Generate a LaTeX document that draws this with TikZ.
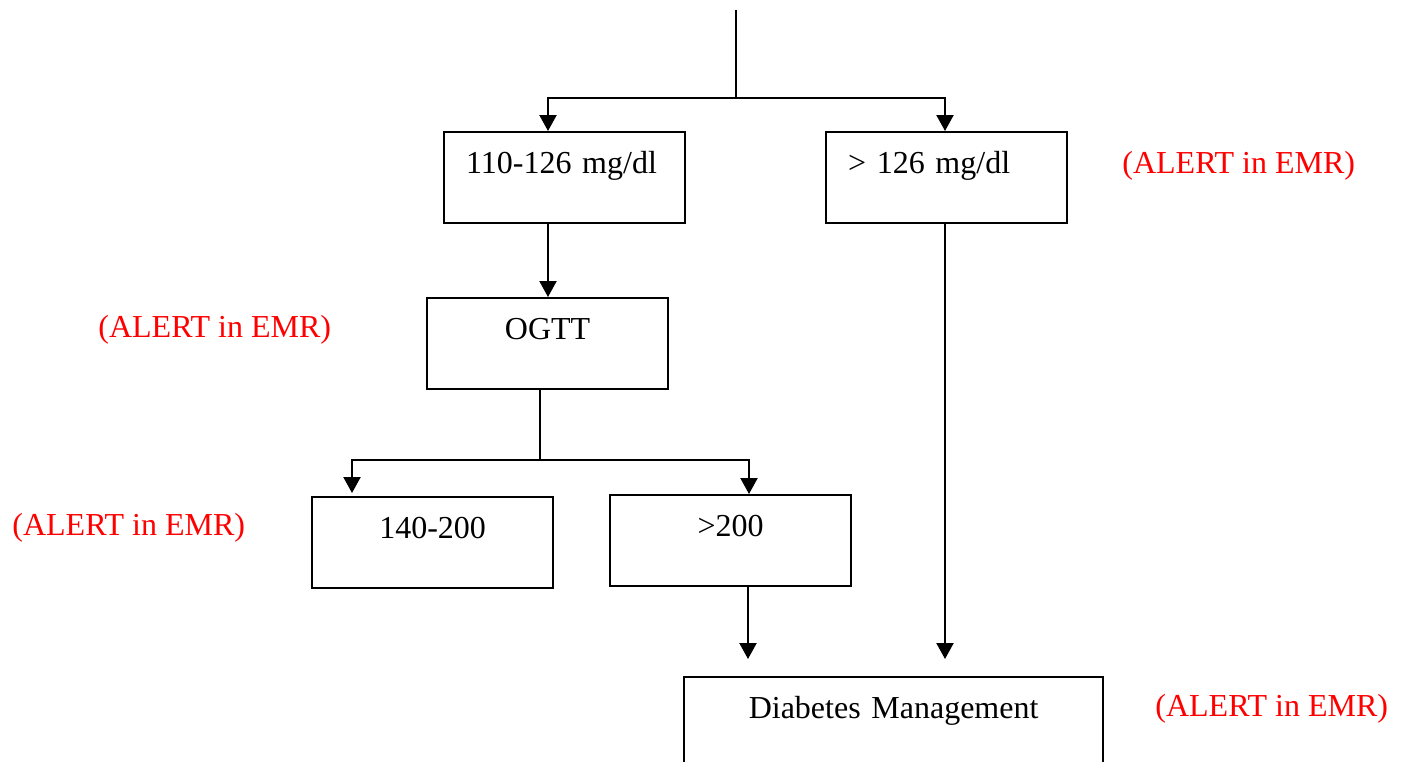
\documentclass[tikz,border=0pt]{standalone}
\usepackage{fontspec}
\setmainfont{Liberation Serif}
\usepackage{tikz}
\usetikzlibrary{arrows.meta}

\tikzset{
	box/.style={draw,line width=1.1pt,anchor=north west,minimum width=120.5pt,minimum height=45.5pt,
		text width=98.5pt,inner xsep=11pt,inner ysep=0pt,text height=20.5pt,text depth=25pt},
	lbox/.style={box,align=left},
	cbox/.style={box,align=center},
	alert/.style={text=red,anchor=base west,inner sep=0pt},
	link/.style={line width=1.1pt},
	arr/.style={line width=1.1pt,-{Triangle[width=8.5pt,length=8pt]}}
}

\begin{document}
\begin{tikzpicture}[x=0.5pt,y=-0.5pt,font=\fontsize{16}{19}\selectfont]
	 \useasboundingbox (0,0) rectangle (1402,761);
	 \node[lbox] (low) at (443,131) {110-126 mg/dl};
	 \node[lbox] (high) at (825,131) {> 126 mg/dl};
	 \node[cbox] (ogtt) at (426,297) {OGTT};
	 \node[cbox] (mid) at (311,496) {140-200};
	 \node[cbox] (over) at (609,494) {>200};
	 \node[cbox,minimum width=209.5pt,text width=187.5pt,minimum height=70pt,text depth=49.5pt] (dm) at (683,676) {Diabetes Management};
	 \node[alert] (a1) at (1122,173) {(ALERT in EMR)};
	 \node[alert] (a2) at (98,337) {(ALERT in EMR)};
	 \node[alert] (a3) at (12,535) {(ALERT in EMR)};
	 \node[alert] (a4) at (1155,716) {(ALERT in EMR)};
	 \coordinate (top) at (736,10);
	 \coordinate (split1) at (736,98);
	 \coordinate (c1) at (548,98);
	 \coordinate (c2) at (945,98);
	 \coordinate (split2) at (540,460);
	 \coordinate (c3) at (352,460);
	 \coordinate (c4) at (749,460);
	 \coordinate (end1) at (748,659);
	 \draw[link] (top) -- (split1);
	 \draw[arr] (split1) -- (c1) -- (c1 |- low.north);
	 \draw[arr] (split1) -- (c2) -- (c2 |- high.north);
	 \draw[arr] (c1 |- low.south) -- (c1 |- ogtt.north);
	 \draw[link] (split2 |- ogtt.south) -- (split2);
	 \draw[arr] (split2) -- (c3) -- ([yshift=1.5pt]c3 |- mid.north);
	 \draw[arr] (split2) -- (c4) -- (c4 |- over.north);
	 \draw[arr] (end1 |- over.south) -- (end1);
	 \draw[arr] (c2 |- high.south) -- (c2 |- end1);
	 \end{tikzpicture}
\end{document}
